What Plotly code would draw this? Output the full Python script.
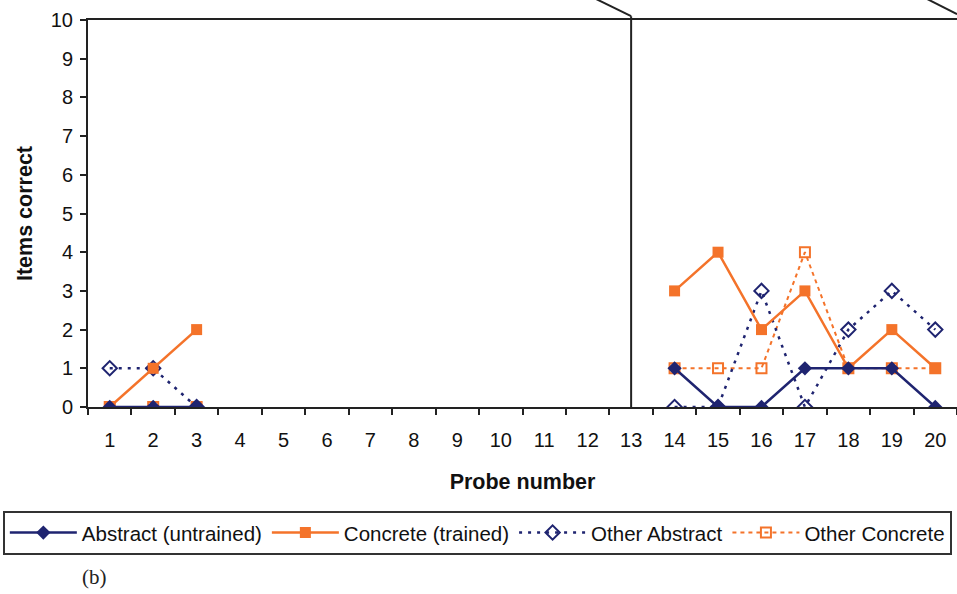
import plotly.graph_objects as go

probes = list(range(1, 21))
abstract_untrained = [0, 0, 0] + [None]*10 + [1, 0, 0, 1, 1, 1, 0]
concrete_trained   = [0, 1, 2] + [None]*10 + [3, 4, 2, 3, 1, 2, 1]
other_abstract     = [1, 1, 0] + [None]*10 + [0, 0, 3, 0, 2, 3, 2]
other_concrete     = [0, 0, 0] + [None]*10 + [1, 1, 1, 4, 1, 1, 1]
phase_change_probe = 13
y_ticks = list(range(0, 11))

NAVY = "#1f2470"
ORANGE = "#f4732a"
FONT = "Liberation Sans, Arial, sans-serif"

fig = go.Figure()
fig.add_trace(go.Scatter(x=probes, y=other_concrete, name="Other Concrete", mode="lines+markers",
                         line=dict(color=ORANGE, width=2, dash="4px,4px"),
                         marker=dict(symbol="square-open", size=10, color=ORANGE, line=dict(width=2)),
                         connectgaps=False, legendrank=4))
fig.add_trace(go.Scatter(x=probes, y=other_abstract, name="Other Abstract", mode="lines+markers",
                         line=dict(color=NAVY, width=2.5, dash="3px,6px"),
                         marker=dict(symbol="diamond-open", size=11, color=NAVY, line=dict(width=2)),
                         connectgaps=False, legendrank=3))
fig.add_trace(go.Scatter(x=probes, y=concrete_trained, name="Concrete (trained)", mode="lines+markers",
                         line=dict(color=ORANGE, width=2.5),
                         marker=dict(symbol="square", size=11, color=ORANGE),
                         connectgaps=False, legendrank=2))
fig.add_trace(go.Scatter(x=probes, y=abstract_untrained, name="Abstract (untrained)", mode="lines+markers",
                         line=dict(color=NAVY, width=2.5),
                         marker=dict(symbol="diamond", size=11, color=NAVY),
                         connectgaps=False, legendrank=1))

x_range = [0.5, 20.5]
def xfrac(v):
    return (v - x_range[0]) / (x_range[1] - x_range[0])

# phase-change line at probe 13 and diagonal break marks above the plot
fig.add_shape(type="line", xref="x domain", yref="paper",
              x0=xfrac(phase_change_probe), x1=xfrac(phase_change_probe), y0=0, y1=1.01,
              line=dict(color="#222222", width=2))
fig.add_shape(type="line", xref="x domain", yref="paper",
              x0=xfrac(phase_change_probe) - 0.041, x1=xfrac(phase_change_probe), y0=1.055, y1=1.01,
              line=dict(color="#222222", width=2))
fig.add_shape(type="line", xref="x domain", yref="paper",
              x0=0.965, x1=1.0, y0=1.055, y1=1.015,
              line=dict(color="#222222", width=2))

fig.add_annotation(text="(b)", xref="paper", yref="paper", x=0.008, y=-0.44,
                   xanchor="center", yanchor="middle", showarrow=False,
                   font=dict(family="Liberation Serif, Times New Roman, serif", size=21, color="#222"))

fig.update_layout(
    width=957, height=594,
    margin=dict(l=88, r=0, t=20, b=187),
    paper_bgcolor="white", plot_bgcolor="white",
    font=dict(family=FONT, size=20, color="#111"),
    showlegend=True,
    legend=dict(orientation="h", x=-0.098, y=-0.268, xanchor="left", yanchor="top",
                bordercolor="#333", borderwidth=2, font=dict(size=20.5, family=FONT, color="#111"),
                itemwidth=67, tracegroupgap=0, traceorder="normal"),
    xaxis=dict(range=x_range, tickvals=probes, ticktext=[str(p) for p in probes],
               showgrid=False, zeroline=False, showline=True, linecolor="#222", linewidth=2,
               mirror=True, ticks="", ticklabelstandoff=14,
               minor=dict(tickvals=[p + 0.5 for p in [0] + probes], ticks="outside", ticklen=6,
                          tickcolor="#222", tickwidth=1.5),
               tickfont=dict(size=20),
               title=dict(text="<b>Probe number</b>", font=dict(size=21.5), standoff=24)),
    yaxis=dict(range=[0, 10], tickvals=y_ticks, showgrid=False, zeroline=False,
               showline=True, linecolor="#222", linewidth=2, ticks="outside", ticklen=6,
               tickcolor="#222", tickwidth=1.5, tickfont=dict(size=20), ticklabelstandoff=3,
               title=dict(text="<b>Items correct</b>", font=dict(size=21.5), standoff=12)),
)

fig.write_html("out.html")
